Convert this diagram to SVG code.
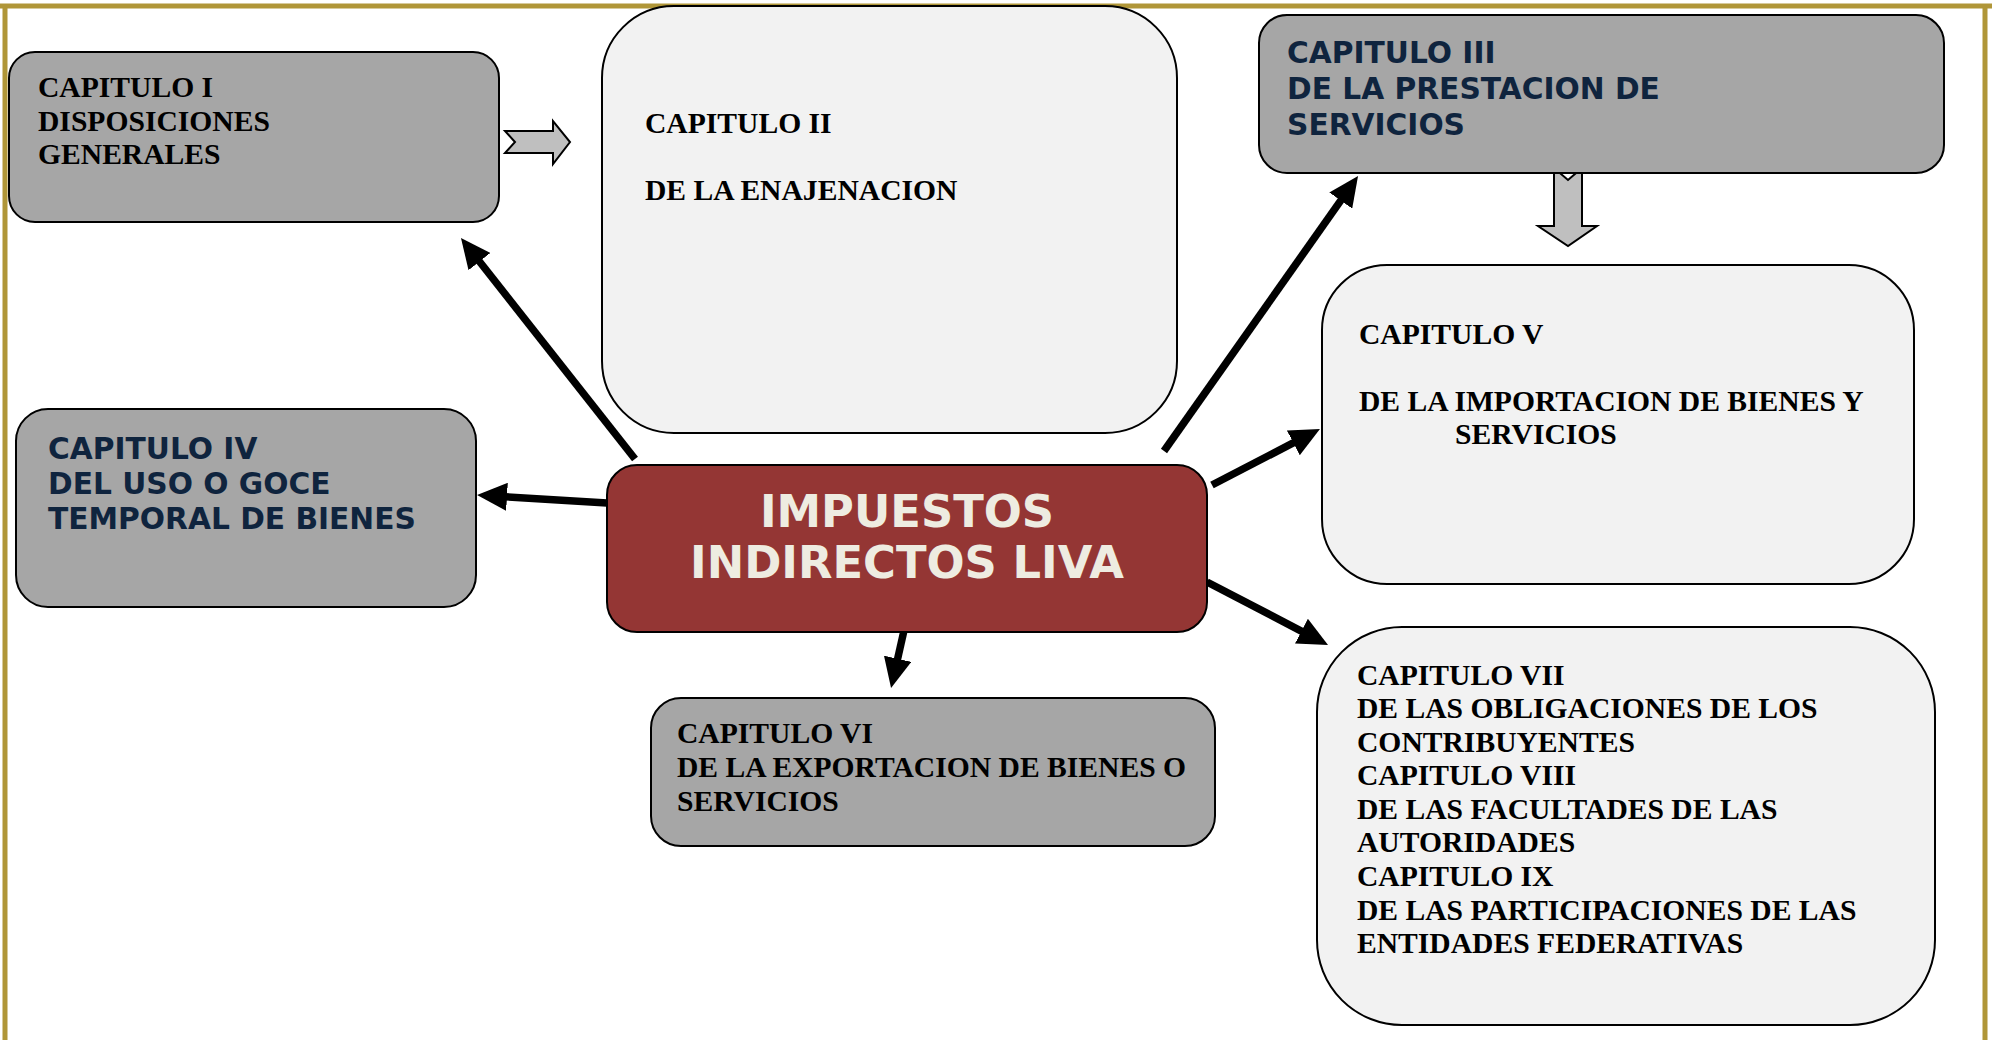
<svg xmlns="http://www.w3.org/2000/svg" width="1992" height="1040" viewBox="0 0 1992 1040">
<defs>
<style>
.gray{fill:#A6A6A6;stroke:#000;stroke-width:2}
.light{fill:#F2F2F2;stroke:#000;stroke-width:2}
.hub{fill:#943634;stroke:#000;stroke-width:2}
.serif{font-family:"Liberation Serif","Times New Roman",serif;font-weight:bold;font-size:29.6px;fill:#000}
.sans{font-family:"DejaVu Sans",Verdana,sans-serif;font-weight:bold;font-size:29.7px;fill:#0F243E}
.hubtxt{font-family:"DejaVu Sans",Verdana,sans-serif;font-weight:bold;font-size:44.8px;fill:#EEECE1;text-anchor:middle}
.conn{stroke:#000;stroke-width:7.5;fill:none;marker-end:url(#ah)}
.block{fill:#BFBFBF;stroke:#000;stroke-width:2;stroke-linejoin:miter}
.border{stroke:#B09638;stroke-width:5;fill:none}
</style>
<marker id="ah" markerUnits="userSpaceOnUse" viewBox="0 0 30 28" refX="2" refY="14" markerWidth="30" markerHeight="28" orient="auto">
<path d="M0,0 L30,14 L0,28 Z" fill="#000"/>
</marker>
</defs>
<rect x="0" y="0" width="1992" height="1040" fill="#fff"/>
<g id="border">
<line class="border" x1="0" y1="6" x2="1992" y2="6"/>
<line class="border" x1="5" y1="4" x2="5" y2="1040"/>
<line class="border" x1="1985" y1="4" x2="1985" y2="1040"/>
</g>
<g id="connectors">
<line class="conn" x1="635" y1="459" x2="478.3" y2="260"/>
<line class="conn" x1="607" y1="503" x2="505" y2="496.7"/>
<line class="conn" x1="1164" y1="451" x2="1341.9" y2="198.9"/>
<line class="conn" x1="1212" y1="485" x2="1295.1" y2="441.9"/>
<line class="conn" x1="1207" y1="582" x2="1303.2" y2="632.1"/>
<line class="conn" x1="905" y1="626" x2="897.2" y2="660.7"/>
<polygon class="block" points="505,131 553,131 553,121 570,142 553,164 553,153 505,153 515,142"/>
<polygon class="block" points="1554,168 1568,180 1582,168 1582,226 1597,226 1568,246 1538,226 1554,226"/>
</g>
<g id="cap1">
<rect class="gray" x="9" y="52" width="490" height="170" rx="26"/>
<text class="serif" x="38" y="97">CAPITULO I</text>
<text class="serif" x="38" y="131">DISPOSICIONES</text>
<text class="serif" x="38" y="164">GENERALES</text>
</g>
<g id="cap2">
<rect class="light" x="602" y="6" width="575" height="427" rx="72"/>
<text class="serif" x="645" y="133">CAPITULO II</text>
<text class="serif" x="645" y="200">DE LA ENAJENACION</text>
</g>
<g id="cap3">
<rect class="gray" x="1259" y="15" width="685" height="158" rx="28"/>
<text class="sans" x="1287" y="63">CAPITULO III</text>
<text class="sans" x="1287" y="99">DE LA PRESTACION DE</text>
<text class="sans" x="1287" y="135">SERVICIOS</text>
</g>
<g id="cap4">
<rect class="gray" x="16" y="409" width="460" height="198" rx="32"/>
<text class="sans" x="48" y="459">CAPITULO IV</text>
<text class="sans" x="48" y="494">DEL USO O GOCE</text>
<text class="sans" x="48" y="529">TEMPORAL DE BIENES</text>
</g>
<g id="center">
<rect class="hub" x="607" y="465" width="600" height="167" rx="30"/>
<text class="hubtxt" x="907" y="527">IMPUESTOS</text>
<text class="hubtxt" x="907" y="578">INDIRECTOS LIVA</text>
</g>
<g id="cap5">
<rect class="light" x="1322" y="265" width="592" height="319" rx="65"/>
<text class="serif" x="1359" y="344">CAPITULO V</text>
<text class="serif" x="1359" y="411">DE LA IMPORTACION DE BIENES Y</text>
<text class="serif" x="1455" y="444">SERVICIOS</text>
</g>
<g id="cap6">
<rect class="gray" x="651" y="698" width="564" height="148" rx="30"/>
<text class="serif" x="677" y="743">CAPITULO VI</text>
<text class="serif" x="677" y="777">DE LA EXPORTACION DE BIENES O</text>
<text class="serif" x="677" y="811">SERVICIOS</text>
</g>
<g id="cap7">
<rect class="light" x="1317" y="627" width="618" height="398" rx="85"/>
<text class="serif" x="1357" y="685">CAPITULO VII</text>
<text class="serif" x="1357" y="718">DE LAS OBLIGACIONES DE LOS</text>
<text class="serif" x="1357" y="752">CONTRIBUYENTES</text>
<text class="serif" x="1357" y="785">CAPITULO VIII</text>
<text class="serif" x="1357" y="819">DE LAS FACULTADES DE LAS</text>
<text class="serif" x="1357" y="852">AUTORIDADES</text>
<text class="serif" x="1357" y="886">CAPITULO IX</text>
<text class="serif" x="1357" y="920">DE LAS PARTICIPACIONES DE LAS</text>
<text class="serif" x="1357" y="953">ENTIDADES FEDERATIVAS</text>
</g>
</svg>
